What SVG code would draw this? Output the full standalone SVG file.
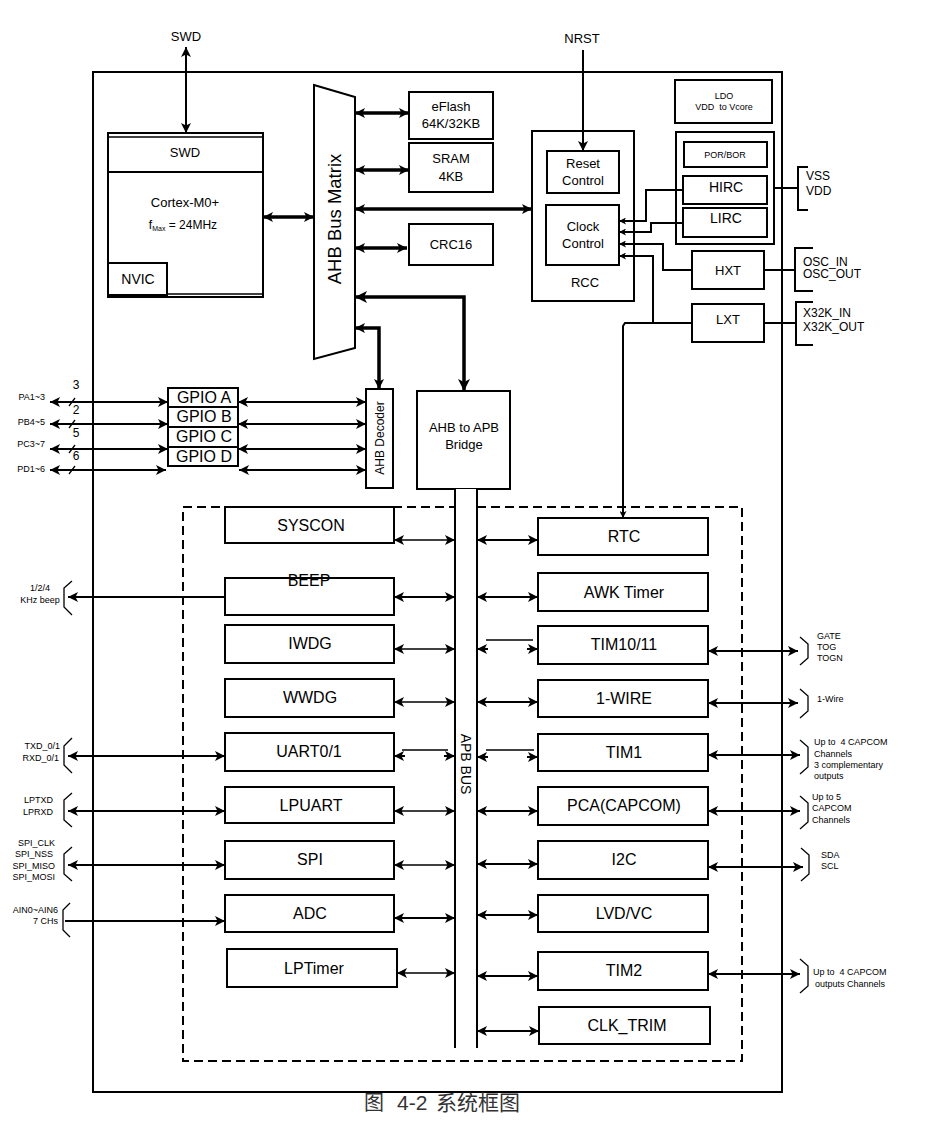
<svg xmlns="http://www.w3.org/2000/svg" width="927" height="1148" viewBox="0 0 927 1148">
<defs>
<style>
.bx{fill:#fff;stroke:#000;stroke-width:2}
.ln{fill:none;stroke:#000;stroke-width:2}
.tn{fill:none;stroke:#000;stroke-width:1.3}
.tk{fill:none;stroke:#000;stroke-width:3.5}
.t{font-family:"Liberation Sans",Arial,sans-serif;fill:#000;text-anchor:middle}
.s16{font-size:16px}
.s14{font-size:14px}
.s13{font-size:13px}
.s9{font-size:9px}
.l{text-anchor:start}
.r{text-anchor:end}
</style>
<marker id="a" viewBox="0 0 10 10" refX="10" refY="5" markerWidth="11" markerHeight="10" markerUnits="userSpaceOnUse" orient="auto-start-reverse"><path d="M0,0 L10,5 L0,10 L2.5,5 z" fill="#000"/></marker>
<marker id="sm" viewBox="0 0 10 10" refX="10" refY="5" markerWidth="8" markerHeight="7" markerUnits="userSpaceOnUse" orient="auto-start-reverse"><path d="M0,0 L10,5 L0,10 L2.5,5 z" fill="#000"/></marker>
<marker id="b" viewBox="0 0 10 10" refX="10" refY="5" markerWidth="13" markerHeight="12" markerUnits="userSpaceOnUse" orient="auto-start-reverse"><path d="M0,0 L10,5 L0,10 L2.5,5 z" fill="#000"/></marker>
</defs>
<rect width="927" height="1148" fill="#fff"/>

<!-- outer chip -->
<rect x="93" y="72" width="689" height="1020" class="ln"/>
<!-- peripheral dashed region -->
<rect x="183" y="507" width="559" height="554" fill="none" stroke="#000" stroke-width="2" stroke-dasharray="9,5"/>

<g id="cortex">
<rect x="108" y="133" width="155" height="164" class="bx"/>
<line x1="108" y1="137" x2="263" y2="137" class="tn"/>
<line x1="108" y1="294" x2="263" y2="294" class="tn"/>
<line x1="108" y1="172" x2="263" y2="172" class="ln"/>
<text x="185" y="157" class="t s13">SWD</text>
<text x="185" y="207" class="t s13">Cortex-M0+</text>
<text x="183" y="229" class="t" font-size="12">f<tspan font-size="7" dy="2">Max</tspan><tspan dy="-2"> = 24MHz</tspan></text>
</g>
<g id="nvic">
<rect x="108" y="263" width="59" height="32" class="bx"/>
<text x="138" y="284" class="t s14">NVIC</text>
</g>

<g id="ahb-matrix">
<polygon points="314,85 355,97 355,348 314,359" class="bx" stroke-width="1.5"/>
<text transform="translate(341,219) rotate(-90)" class="t" font-size="18.5">AHB Bus Matrix</text>
</g>

<g id="eflash"><rect x="409" y="92" width="84" height="47" class="bx"/>
<text x="451" y="111" class="t s13">eFlash</text><text x="451" y="128" class="t s13">64K/32KB</text></g>
<g id="sram"><rect x="409" y="143" width="84" height="49" class="bx"/>
<text x="451" y="163" class="t s13">SRAM</text><text x="451" y="181" class="t s13">4KB</text></g>
<g id="crc16"><rect x="409" y="224" width="84" height="41" class="bx"/>
<text x="451" y="249" class="t s13">CRC16</text></g>

<g id="rcc"><rect x="532" y="131" width="102" height="170" class="bx"/>
<text x="585" y="287" class="t s13">RCC</text></g>
<g id="reset-control"><rect x="547" y="151" width="72" height="42" class="bx"/>
<text x="583" y="168" class="t s13">Reset</text><text x="583" y="185" class="t s13">Control</text></g>
<g id="clock-control"><rect x="546" y="205" width="73" height="60" class="bx"/>
<text x="583" y="231" class="t s13">Clock</text><text x="583" y="248" class="t s13">Control</text></g>

<g id="ldo"><rect x="675" y="80" width="97" height="43" class="bx"/>
<text x="724" y="99" class="t s9">LDO</text><text x="724" y="110" class="t s9" xml:space="preserve">VDD  to Vcore</text></g>
<g id="power"><rect x="676" y="132" width="98" height="112" class="bx"/></g>
<g id="por-bor"><rect x="684" y="142" width="83" height="25" class="bx"/>
<text x="725" y="158" class="t s9">POR/BOR</text></g>
<g id="hirc"><rect x="683" y="176" width="84" height="28" class="bx"/>
<text x="726" y="192" class="t s14">HIRC</text></g>
<g id="lirc"><rect x="683" y="208" width="84" height="29" class="bx"/>
<text x="726" y="223" class="t s14">LIRC</text></g>
<g id="hxt"><rect x="692" y="251" width="72" height="38" class="bx"/>
<text x="728" y="275" class="t s13">HXT</text></g>
<g id="lxt"><rect x="692" y="304" width="72" height="38" class="bx"/>
<text x="728" y="324" class="t s13">LXT</text></g>

<g id="gpio">
<rect x="168" y="388" width="70" height="78" class="bx"/>
<line x1="168" y1="407" x2="238" y2="407" class="ln"/>
<line x1="168" y1="427" x2="238" y2="427" class="ln"/>
<line x1="168" y1="447" x2="238" y2="447" class="ln"/>
<text x="204" y="403" class="t" font-size="16">GPIO A</text>
<text x="204" y="422" class="t" font-size="16">GPIO B</text>
<text x="204" y="442" class="t" font-size="16">GPIO C</text>
<text x="204" y="462" class="t" font-size="16">GPIO D</text>
</g>
<g id="ahb-decoder"><rect x="366" y="389" width="27" height="99" class="bx" stroke-width="1.5"/>
<text transform="translate(384,438) rotate(-90)" class="t" font-size="12">AHB Decoder</text></g>
<g id="bridge"><rect x="417" y="391" width="93" height="98" class="bx"/>
<text x="464" y="432" class="t s13">AHB to APB</text><text x="464" y="449" class="t s13">Bridge</text></g>

<g id="apb-bus">
<rect x="456" y="489" width="21" height="559" fill="#fff" stroke="none"/>
<line x1="455" y1="489" x2="455" y2="1048" class="ln"/>
<line x1="477" y1="489" x2="477" y2="1048" class="ln"/>
<text transform="translate(461,764) rotate(90)" class="t s14">APB BUS</text>
</g>

<g id="syscon"><rect x="225" y="507" width="169" height="36" class="bx"/><text x="311" y="531" class="t s16">SYSCON</text></g>
<g id="beep"><rect x="225" y="578" width="169" height="37" class="bx"/><text x="309" y="586" class="t s16">BEEP</text></g>
<g id="iwdg"><rect x="225" y="625" width="169" height="38" class="bx"/><text x="310" y="649" class="t s16">IWDG</text></g>
<g id="wwdg"><rect x="225" y="679" width="169" height="38" class="bx"/><text x="310" y="703" class="t s16">WWDG</text></g>
<g id="uart"><rect x="225" y="733" width="169" height="38" class="bx"/><text x="309" y="757" class="t s16">UART0/1</text></g>
<g id="lpuart"><rect x="225" y="787" width="169" height="36" class="bx"/><text x="311" y="811" class="t s16">LPUART</text></g>
<g id="spi"><rect x="225" y="841" width="169" height="38" class="bx"/><text x="310" y="865" class="t s16">SPI</text></g>
<g id="adc"><rect x="225" y="895" width="169" height="37" class="bx"/><text x="310" y="919" class="t s16">ADC</text></g>
<g id="lptimer"><rect x="227" y="949" width="170" height="38" class="bx"/><text x="314" y="974" class="t s16">LPTimer</text></g>

<g id="rtc"><rect x="538" y="518" width="170" height="37" class="bx"/><text x="624" y="542" class="t s16">RTC</text></g>
<g id="awk"><rect x="538" y="573" width="170" height="38" class="bx"/><text x="624" y="598" class="t s16">AWK Timer</text></g>
<g id="tim10"><rect x="538" y="626" width="170" height="38" class="bx"/><text x="624" y="650" class="t s16">TIM10/11</text></g>
<g id="onewire"><rect x="538" y="680" width="170" height="37" class="bx"/><text x="624" y="704" class="t s16">1-WIRE</text></g>
<g id="tim1"><rect x="538" y="734" width="170" height="37" class="bx"/><text x="624" y="758" class="t s16">TIM1</text></g>
<g id="pca"><rect x="538" y="787" width="170" height="38" class="bx"/><text x="624" y="811" class="t s16">PCA(CAPCOM)</text></g>
<g id="i2c"><rect x="538" y="841" width="170" height="38" class="bx"/><text x="624" y="865" class="t s16">I2C</text></g>
<g id="lvd"><rect x="538" y="895" width="170" height="37" class="bx"/><text x="624" y="919" class="t s16">LVD/VC</text></g>
<g id="tim2"><rect x="538" y="952" width="170" height="38" class="bx"/><text x="624" y="976" class="t s16">TIM2</text></g>
<g id="clktrim"><rect x="539" y="1007" width="171" height="37" class="bx"/><text x="627" y="1031" class="t s16">CLK_TRIM</text></g>

<g id="connectors">
<!-- top pins -->
<line x1="186" y1="47" x2="186" y2="133" class="ln" marker-start="url(#a)" marker-end="url(#a)"/>
<line x1="583" y1="50" x2="583" y2="151" class="ln" marker-end="url(#a)"/>
<!-- AHB matrix links -->
<line x1="263" y1="217" x2="314" y2="217" class="tk" marker-start="url(#a)" marker-end="url(#a)"/>
<line x1="355" y1="113" x2="409" y2="113" class="tk" marker-start="url(#a)" marker-end="url(#a)"/>
<line x1="355" y1="170" x2="409" y2="170" class="tk" marker-start="url(#a)" marker-end="url(#a)"/>
<line x1="355" y1="209" x2="532" y2="209" class="tk" marker-start="url(#a)" marker-end="url(#a)"/>
<line x1="355" y1="248" x2="407" y2="248" class="tk" marker-start="url(#a)" marker-end="url(#a)"/>
<polyline points="355,297 464,297 464,391" class="tk" marker-start="url(#b)" marker-end="url(#b)"/>
<polyline points="355,328 379,328 379,389" class="tk" marker-start="url(#a)" marker-end="url(#a)"/>
<!-- clock sources -->
<polyline points="683,190 646,190 646,221 619,221" class="ln" marker-end="url(#sm)"/>
<polyline points="683,223 651,223 651,232 619,232" class="ln" marker-end="url(#sm)"/>
<polyline points="692,270 663,270 663,244 619,244" class="ln" marker-end="url(#sm)"/>
<polyline points="692,323 653,323 653,256 619,256" class="ln" marker-end="url(#sm)"/>
<polyline points="653,323 625,323 623,326 623,518" class="ln" marker-end="url(#sm)"/>
<!-- power / osc pins -->
<line x1="774" y1="188" x2="798" y2="188" class="ln"/>
<polyline points="808,167 798,167 798,210 808,210" class="ln"/>
<line x1="764" y1="270" x2="795" y2="270" class="ln"/>
<polyline points="813,248 795,248 795,291 813,291" class="ln"/>
<line x1="764" y1="323" x2="796" y2="323" class="ln"/>
<polyline points="813,302 796,302 796,345 813,345" class="ln"/>
<!-- GPIO -->
<line x1="50" y1="402" x2="168" y2="402" class="ln" marker-start="url(#a)" marker-end="url(#a)"/>
<line x1="50" y1="424" x2="168" y2="424" class="ln" marker-start="url(#a)" marker-end="url(#a)"/>
<line x1="50" y1="449" x2="168" y2="449" class="ln" marker-start="url(#a)" marker-end="url(#a)"/>
<line x1="50" y1="470" x2="166" y2="470" class="ln" marker-start="url(#a)" marker-end="url(#a)"/>
<line x1="238" y1="402" x2="366" y2="402" class="ln" marker-start="url(#a)" marker-end="url(#a)"/>
<line x1="238" y1="424" x2="366" y2="424" class="ln" marker-start="url(#a)" marker-end="url(#a)"/>
<line x1="238" y1="449" x2="366" y2="449" class="ln" marker-start="url(#a)" marker-end="url(#a)"/>
<line x1="239" y1="470" x2="366" y2="470" class="ln" marker-start="url(#a)" marker-end="url(#a)"/>
<line x1="69" y1="406" x2="75" y2="398" class="tn"/>
<line x1="69" y1="428" x2="75" y2="420" class="tn"/>
<line x1="69" y1="453" x2="75" y2="445" class="tn"/>
<line x1="69" y1="474" x2="75" y2="466" class="tn"/>
<!-- APB left -->
<line x1="394" y1="540" x2="455" y2="540" class="tn" marker-start="url(#a)" marker-end="url(#a)"/>
<line x1="394" y1="597" x2="455" y2="597" class="ln" marker-start="url(#a)" marker-end="url(#a)"/>
<line x1="394" y1="649" x2="455" y2="649" class="tn" marker-start="url(#a)" marker-end="url(#a)"/>
<line x1="394" y1="702" x2="455" y2="702" class="tn" marker-start="url(#a)" marker-end="url(#a)"/>
<line x1="394" y1="756" x2="405" y2="756" class="ln" marker-start="url(#a)"/>
<line x1="444" y1="756" x2="455" y2="756" class="ln" marker-end="url(#a)"/>
<line x1="402" y1="750" x2="448" y2="750" class="tn"/>
<line x1="394" y1="811" x2="455" y2="811" class="tn" marker-start="url(#a)" marker-end="url(#a)"/>
<line x1="394" y1="865" x2="455" y2="865" class="tn" marker-start="url(#a)" marker-end="url(#a)"/>
<line x1="394" y1="918" x2="455" y2="918" class="ln" marker-start="url(#a)" marker-end="url(#a)"/>
<line x1="397" y1="973" x2="455" y2="973" class="tn" marker-start="url(#a)" marker-end="url(#a)"/>
<!-- APB right -->
<line x1="477" y1="540" x2="538" y2="540" class="ln" marker-start="url(#a)" marker-end="url(#a)"/>
<line x1="477" y1="597" x2="538" y2="597" class="ln" marker-start="url(#a)" marker-end="url(#a)"/>
<line x1="477" y1="649" x2="488" y2="649" class="ln" marker-start="url(#a)"/>
<line x1="527" y1="649" x2="538" y2="649" class="ln" marker-end="url(#a)"/>
<line x1="486" y1="640" x2="533" y2="640" class="tn"/>
<line x1="477" y1="702" x2="538" y2="702" class="ln" marker-start="url(#a)" marker-end="url(#a)"/>
<line x1="477" y1="757" x2="488" y2="757" class="ln" marker-start="url(#a)"/>
<line x1="527" y1="757" x2="538" y2="757" class="ln" marker-end="url(#a)"/>
<line x1="486" y1="750" x2="534" y2="750" class="tn"/>
<line x1="477" y1="811" x2="538" y2="811" class="ln" marker-start="url(#a)" marker-end="url(#a)"/>
<line x1="477" y1="864" x2="538" y2="864" class="ln" marker-start="url(#a)" marker-end="url(#a)"/>
<line x1="477" y1="915" x2="538" y2="915" class="ln" marker-start="url(#a)" marker-end="url(#a)"/>
<line x1="477" y1="976" x2="538" y2="976" class="ln" marker-start="url(#a)" marker-end="url(#a)"/>
<line x1="477" y1="1031" x2="539" y2="1031" class="ln" marker-start="url(#a)" marker-end="url(#a)"/>
<!-- left external -->
<line x1="225" y1="597" x2="68" y2="597" class="ln" marker-end="url(#a)"/>
<line x1="68" y1="756" x2="225" y2="756" class="ln" marker-start="url(#a)" marker-end="url(#a)"/>
<line x1="68" y1="811" x2="225" y2="811" class="ln" marker-start="url(#a)" marker-end="url(#a)"/>
<line x1="68" y1="865" x2="225" y2="865" class="ln" marker-start="url(#a)" marker-end="url(#a)"/>
<line x1="65" y1="921" x2="225" y2="921" class="ln" marker-end="url(#a)"/>
<polyline points="72,581 64,588 64,607 72,615" class="tn"/>
<polyline points="72,738 64,746 64,765 72,773" class="tn"/>
<polyline points="72,793 64,800 64,820 72,827" class="tn"/>
<polyline points="72,847 64,854 64,874 72,881" class="tn"/>
<polyline points="70,903 63,910 63,930 70,937" class="tn"/>
<!-- right external -->
<line x1="708" y1="651" x2="798" y2="651" class="ln" marker-start="url(#a)" marker-end="url(#a)"/>
<line x1="708" y1="703" x2="798" y2="703" class="ln" marker-start="url(#a)" marker-end="url(#a)"/>
<line x1="708" y1="755" x2="800" y2="755" class="ln" marker-start="url(#a)" marker-end="url(#a)"/>
<line x1="708" y1="811" x2="800" y2="811" class="ln" marker-start="url(#a)" marker-end="url(#a)"/>
<line x1="708" y1="867" x2="803" y2="867" class="ln" marker-start="url(#a)" marker-end="url(#a)"/>
<line x1="708" y1="974" x2="800" y2="974" class="ln" marker-start="url(#a)" marker-end="url(#a)"/>
<polyline points="800,637 808,644 808,658 800,665" class="tn"/>
<polyline points="800,689 808,696 808,711 800,718" class="tn"/>
<polyline points="800,740 808,747 808,767 800,774" class="tn"/>
<polyline points="800,796 808,803 808,822 800,829" class="tn"/>
<polyline points="801,848 809,855 809,874 801,881" class="tn"/>
<polyline points="800,959 808,966 808,986 800,993" class="tn"/>
</g>

<g id="labels">
<text x="186" y="41" class="t s13">SWD</text>
<text x="582" y="43" class="t s13">NRST</text>
<text x="806" y="180" class="t l" font-size="12">VSS</text>
<text x="806" y="195" class="t l" font-size="12">VDD</text>
<text x="803" y="266" class="t l" font-size="12">OSC_IN</text>
<text x="803" y="278" class="t l" font-size="12">OSC_OUT</text>
<text x="803" y="317" class="t l" font-size="12">X32K_IN</text>
<text x="803" y="331" class="t l" font-size="12">X32K_OUT</text>
<text x="76" y="389" class="t" font-size="12">3</text>
<text x="76" y="414" class="t" font-size="12">2</text>
<text x="76" y="437" class="t" font-size="12">5</text>
<text x="76" y="460" class="t" font-size="12">6</text>
<text x="45" y="400" class="t r s9">PA1~3</text>
<text x="45" y="425" class="t r s9">PB4~5</text>
<text x="45" y="447" class="t r s9">PC3~7</text>
<text x="45" y="472" class="t r s9">PD1~6</text>
<text x="40" y="591" class="t s9">1/2/4</text>
<text x="40" y="603" class="t s9">KHz beep</text>
<text x="60" y="749" class="t r s9">TXD_0/1</text>
<text x="59" y="761" class="t r s9">RXD_0/1</text>
<text x="53" y="803" class="t r s9">LPTXD</text>
<text x="53" y="815" class="t r s9">LPRXD</text>
<text x="55" y="846" class="t r s9">SPI_CLK</text>
<text x="53" y="857" class="t r s9">SPI_NSS</text>
<text x="55" y="869" class="t r s9">SPI_MISO</text>
<text x="55" y="880" class="t r s9">SPI_MOSI</text>
<text x="58" y="913" class="t r s9">AIN0~AIN6</text>
<text x="58" y="924" class="t r s9">7 CHs</text>
<text x="817" y="639" class="t l s9">GATE</text>
<text x="817" y="650" class="t l s9">TOG</text>
<text x="817" y="661" class="t l s9">TOGN</text>
<text x="817" y="702" class="t l s9">1-Wire</text>
<text x="814" y="745" class="t l s9" xml:space="preserve">Up to  4 CAPCOM</text>
<text x="814" y="757" class="t l s9">Channels</text>
<text x="814" y="768" class="t l s9">3 complementary</text>
<text x="814" y="779" class="t l s9">outputs</text>
<text x="812" y="800" class="t l s9">Up to 5</text>
<text x="812" y="811" class="t l s9">CAPCOM</text>
<text x="812" y="823" class="t l s9">Channels</text>
<text x="821" y="858" class="t l s9">SDA</text>
<text x="821" y="869" class="t l s9">SCL</text>
<text x="813" y="975" class="t l s9" xml:space="preserve">Up to  4 CAPCOM</text>
<text x="815" y="987" class="t l s9">outputs Channels</text>
</g>

<g id="caption">
<text x="364" y="1110" font-family="'Noto Sans CJK SC',sans-serif" font-size="20" fill="#333">图</text>
<text x="397" y="1110" font-family="'Liberation Sans','Noto Sans CJK SC',sans-serif" font-size="21" fill="#333">4-2<tspan x="436" font-family="'Noto Sans CJK SC',sans-serif">系统框图</tspan></text>
</g>
</svg>
